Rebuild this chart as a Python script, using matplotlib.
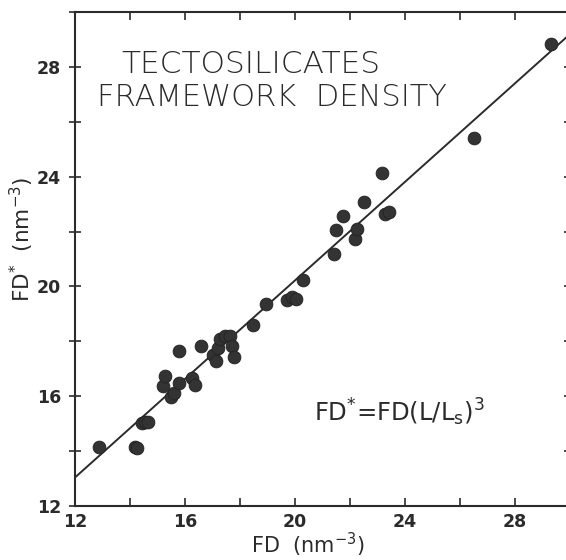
import numpy as np
import matplotlib
matplotlib.use("Agg")
import matplotlib.pyplot as plt
from matplotlib.ticker import MultipleLocator

# FD (nm^-3) vs FD* (nm^-3), tectosilicates
fd = [12.86, 14.18, 14.27, 14.42, 14.53, 14.66, 15.48, 15.60, 15.80, 15.20,
      15.27, 15.77, 16.26, 16.36, 16.58, 17.03, 17.11, 17.19, 17.28, 17.46,
      17.63, 17.70, 17.77, 18.46, 18.96, 19.70, 19.88, 20.02, 20.29, 21.40,
      21.49, 21.76, 22.18, 22.24, 22.52, 23.16, 23.28, 23.40, 26.52, 29.32]
fd_star = [14.14, 14.14, 14.10, 15.04, 15.07, 15.07, 15.98, 16.12, 16.50, 16.36,
           16.75, 17.66, 16.66, 16.42, 17.83, 17.50, 17.28, 17.76, 18.10, 18.18,
           18.20, 17.82, 17.44, 18.60, 19.36, 19.49, 19.62, 19.55, 20.22, 21.17,
           22.07, 22.58, 21.73, 22.10, 23.09, 24.13, 22.65, 22.72, 25.40, 28.85]

# fitted line
line_fd = [12.0, 30.0]
line_fd_star = [13.04, 29.2]

ink = "#2b2b2b"

fig = plt.figure(figsize=(5.66, 5.60), dpi=100)
ax = fig.add_axes([0.1325, 0.0964, 0.8746, 0.882])

ax.plot(line_fd, line_fd_star, color=ink, lw=1.4, zorder=2)
ax.scatter(fd, fd_star, s=85, color="#333333", edgecolors="#222222",
           linewidths=0.6, zorder=3)

ax.set_xlim(12, 30)
ax.set_ylim(12, 30)
ax.xaxis.set_major_locator(MultipleLocator(4))
ax.xaxis.set_minor_locator(MultipleLocator(2))
ax.yaxis.set_major_locator(MultipleLocator(4))
ax.yaxis.set_minor_locator(MultipleLocator(2))

for s in ax.spines.values():
    s.set_linewidth(1.5)
    s.set_color(ink)

ax.tick_params(axis="x", which="both", direction="in", length=6, width=1.2,
               top=True, color=ink, pad=5)
ax.tick_params(axis="y", which="both", direction="inout", length=8, width=1.2,
               right=True, color=ink, pad=6)
for lab in ax.get_xticklabels() + ax.get_yticklabels():
    lab.set_fontweight("bold")
    lab.set_fontsize(12.5)
    lab.set_color(ink)

ax.set_xlabel("FD  (nm$^{-3}$)", fontsize=15, color=ink)
ax.set_ylabel("FD$^{*}$  (nm$^{-3}$)", fontsize=15.5, color=ink)
ax.xaxis.set_label_coords(0.47, -0.05)
ax.yaxis.set_label_coords(-0.078, 0.54)

ax.text(13.7, 28.1, "TECTOSILICATES", fontsize=22.5, color=ink,
        fontweight="light", va="center", ha="left")
ax.text(12.8, 26.9, "FRAMEWORK  DENSITY", fontsize=22, color=ink,
        fontweight="light", va="center", ha="left")
ax.text(20.7, 15.42, "FD$^{*}$=FD(L/L$_{\\mathrm{s}}$)$^{3}$", fontsize=17.5,
        color=ink, va="center", ha="left")

fig.savefig("out.png", dpi=100)
